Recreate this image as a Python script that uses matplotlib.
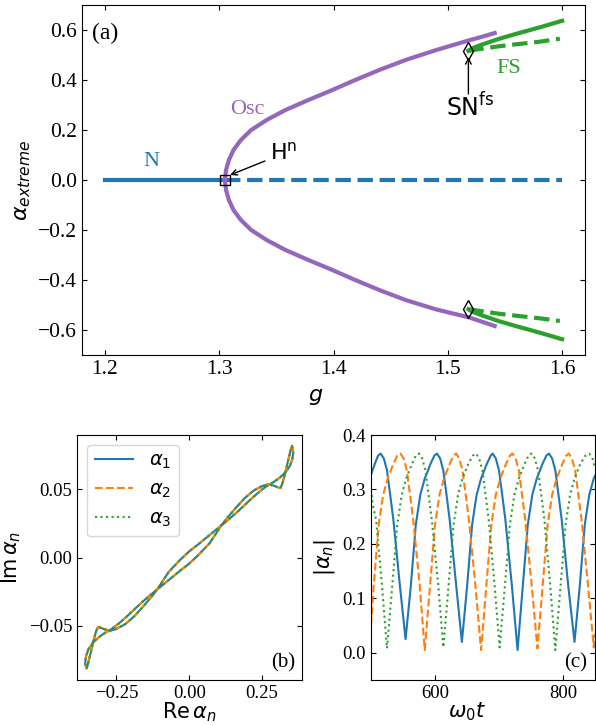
import numpy as np
import matplotlib.pyplot as plt

plt.rcParams['font.family'] = ['Liberation Serif', 'DejaVu Serif']
plt.rcParams['mathtext.fontset'] = 'dejavusans'

C_BLUE, C_ORANGE, C_GREEN, C_PURPLE = '#1f77b4', '#ff7f0e', '#2ca02c', '#9467bd'

# --- (a) bifurcation diagram ---
g_n_stable = [1.20, 1.305]
g_n_unstable = [1.305, 1.60]
g_hopf = 1.305

g_osc = [1.305, 1.306, 1.3085, 1.3125, 1.319, 1.328, 1.3415, 1.358, 1.378,
         1.399, 1.419, 1.44, 1.463, 1.49, 1.518, 1.53, 1.541]
osc_upper = [0.0, 0.04, 0.08, 0.12, 0.16, 0.20, 0.24, 0.28, 0.32,
             0.36, 0.40, 0.44, 0.48, 0.52, 0.558, 0.573, 0.588]
osc_lower = [0.0, -0.04, -0.08, -0.12, -0.16, -0.20, -0.24, -0.28, -0.32,
             -0.36, -0.40, -0.44, -0.48, -0.518, -0.549, -0.567, -0.584]

g_sn = 1.518
g_fs_solid = [1.518, 1.522, 1.53, 1.545, 1.56, 1.58, 1.60]
fs_solid_upper = [0.517, 0.528, 0.542, 0.565, 0.585, 0.61, 0.637]
fs_solid_lower = [-0.517, -0.528, -0.542, -0.565, -0.585, -0.61, -0.637]
g_fs_dashed = [1.518, 1.53, 1.545, 1.56, 1.58, 1.598]
fs_dashed_upper = [0.517, 0.525, 0.535, 0.543, 0.553, 0.565]
fs_dashed_lower = [-0.517, -0.525, -0.535, -0.543, -0.553, -0.564]

# --- (b) limit cycle in the complex plane ---
re_cycle = [0.353, 0.357, 0.354, 0.346, 0.330, 0.310, 0.290, 0.270, 0.250, 0.220,
            0.190, 0.160, 0.130, 0.110, 0.070, 0.030, 0.000, -0.030, -0.070, -0.110,
            -0.130, -0.160, -0.190, -0.220, -0.250, -0.270, -0.290, -0.305, -0.313, -0.320,
            -0.330, -0.338, -0.346, -0.351, -0.353,
            -0.357, -0.354, -0.346, -0.330, -0.310, -0.290, -0.270, -0.250, -0.220,
            -0.190, -0.160, -0.130, -0.110, -0.070, -0.030, 0.000, 0.030, 0.070, 0.110,
            0.130, 0.160, 0.190, 0.220, 0.250, 0.270, 0.290, 0.305, 0.313, 0.320,
            0.330, 0.338, 0.346, 0.351, 0.353]
im_cycle = [0.0816, 0.0775, 0.0725, 0.0675, 0.0625, 0.0585, 0.0555, 0.0530, 0.0500, 0.0445,
            0.0385, 0.0325, 0.0270, 0.0235, 0.0165, 0.0095, 0.0045, -0.0015, -0.0105, -0.0235,
            -0.0290, -0.0365, -0.0435, -0.0490, -0.0525, -0.0537, -0.0528, -0.0515, -0.0510, -0.0545,
            -0.0625, -0.0700, -0.0770, -0.0810, -0.0816,
            -0.0775, -0.0725, -0.0675, -0.0625, -0.0585, -0.0555, -0.0530, -0.0500, -0.0445,
            -0.0385, -0.0325, -0.0270, -0.0235, -0.0165, -0.0095, -0.0045, 0.0015, 0.0105, 0.0235,
            0.0290, 0.0365, 0.0435, 0.0490, 0.0525, 0.0537, 0.0528, 0.0515, 0.0510, 0.0545,
            0.0625, 0.0700, 0.0770, 0.0810, 0.0816]

# --- (c) time traces of |alpha_n| ---
t1 = [500, 506, 511, 515, 520, 525, 530, 535, 545, 554, 562, 570, 577, 584, 593, 599,
      603, 608, 613, 618, 623, 633, 642, 650, 658, 665, 672, 681, 687,
      690, 695, 700, 705, 710, 720, 729, 737, 745, 752, 759, 768, 774,
      778, 783, 788, 793, 798, 808, 818, 826, 834, 841, 848, 850]
a1 = [0.327, 0.347, 0.362, 0.366, 0.357, 0.335, 0.29, 0.244, 0.125, 0.025, 0.12, 0.235, 0.29, 0.32, 0.347, 0.362,
      0.366, 0.357, 0.335, 0.29, 0.244, 0.125, 0.02, 0.12, 0.235, 0.29, 0.32, 0.347, 0.362,
      0.366, 0.357, 0.335, 0.29, 0.244, 0.125, 0.005, 0.12, 0.235, 0.29, 0.32, 0.347, 0.362,
      0.366, 0.357, 0.335, 0.29, 0.244, 0.125, 0.02, 0.12, 0.235, 0.29, 0.32, 0.325]

t2 = [500, 504, 512, 519, 526, 535, 541,
      546, 551, 556, 561, 566, 576, 584, 592, 600, 607, 614, 623, 629,
      633, 638, 643, 648, 653, 663, 672, 680, 688, 695, 702, 711, 717,
      721, 726, 731, 736, 741, 751, 760, 768, 776, 783, 790, 799, 805,
      809, 814, 819, 824, 829, 839, 848, 850]
a2 = [0.05, 0.12, 0.235, 0.29, 0.32, 0.347, 0.362,
      0.366, 0.357, 0.335, 0.29, 0.244, 0.125, 0.005, 0.12, 0.235, 0.29, 0.32, 0.347, 0.362,
      0.366, 0.357, 0.335, 0.29, 0.244, 0.125, 0.005, 0.12, 0.235, 0.29, 0.32, 0.347, 0.362,
      0.366, 0.357, 0.335, 0.29, 0.244, 0.125, 0.008, 0.12, 0.235, 0.29, 0.32, 0.347, 0.362,
      0.366, 0.357, 0.335, 0.29, 0.244, 0.125, 0.01, 0.035]

t3 = [500, 503, 508, 517, 525, 533, 541, 548, 555, 564, 570,
      575, 580, 585, 590, 595, 605, 613, 621, 629, 636, 643, 652, 659,
      664, 669, 674, 679, 684, 693, 701, 709, 717, 724, 731, 740, 746,
      751, 756, 761, 766, 771, 780, 788, 796, 804, 811, 818, 827, 835,
      841, 846, 850]
a3 = [0.30, 0.27, 0.244, 0.125, 0.008, 0.12, 0.235, 0.29, 0.32, 0.347, 0.362,
      0.366, 0.357, 0.335, 0.29, 0.244, 0.125, 0.01, 0.12, 0.235, 0.29, 0.32, 0.347, 0.362,
      0.366, 0.357, 0.335, 0.29, 0.244, 0.125, 0.01, 0.12, 0.235, 0.29, 0.32, 0.347, 0.362,
      0.366, 0.357, 0.335, 0.29, 0.244, 0.125, 0.005, 0.12, 0.235, 0.29, 0.32, 0.347, 0.362,
      0.366, 0.357, 0.34]

W, H = 596, 726
fig = plt.figure(figsize=(W / 100, H / 100), dpi=100)
ax_a = fig.add_axes([82 / W, 1 - 355 / H, 503 / W, 350 / H])
ax_b = fig.add_axes([77 / W, 1 - 680 / H, 225 / W, 245 / H])
ax_c = fig.add_axes([371 / W, 1 - 680 / H, 224 / W, 245 / H])

# panel (a)
lw = 3
ax_a.plot(g_n_stable, [0, 0], color=C_BLUE, lw=lw)
ax_a.plot(g_n_unstable, [0, 0], color=C_BLUE, lw=lw, ls='--')
ax_a.plot(g_osc, osc_upper, color=C_PURPLE, lw=lw)
ax_a.plot(g_osc, osc_lower, color=C_PURPLE, lw=lw)
ax_a.plot(g_fs_solid, fs_solid_upper, color=C_GREEN, lw=lw)
ax_a.plot(g_fs_solid, fs_solid_lower, color=C_GREEN, lw=lw)
ax_a.plot(g_fs_dashed, fs_dashed_upper, color=C_GREEN, lw=lw, ls='--')
ax_a.plot(g_fs_dashed, fs_dashed_lower, color=C_GREEN, lw=lw, ls='--')
ax_a.plot([g_hopf], [0], marker='s', ms=7.5, mfc='none', mec='k', mew=1, zorder=5)
ax_a.plot([g_sn, g_sn], [fs_solid_upper[0], fs_solid_lower[0]], ls='none',
          marker='d', ms=9, mfc='none', mec='k', mew=1, zorder=5)

ax_a.text(1.241, 0.072, 'N', color=C_BLUE, fontsize=16, ha='center', va='center')
ax_a.text(1.325, 0.284, 'Osc', color=C_PURPLE, fontsize=16, ha='center', va='center')
ax_a.text(1.553, 0.446, 'FS', color=C_GREEN, fontsize=16, ha='center', va='center')
ax_a.text(1.3447, 0.084, r'H$^{\rm n}$', family='DejaVu Sans', fontsize=16,
          ha='left', va='baseline')
ax_a.text(1.498, 0.256, r'SN$^{\rm fs}$', family='DejaVu Sans', fontsize=17,
          ha='left', va='baseline')
arrow = dict(arrowstyle='->', color='k', lw=1, shrinkA=0, shrinkB=0)
ax_a.annotate('', xy=(1.3096, 0.02), xytext=(1.340, 0.076), arrowprops=arrow)
ax_a.annotate('', xy=(g_sn, 0.492), xytext=(g_sn, 0.344), arrowprops=arrow)
ax_a.text(0.02, 0.95, '(a)', transform=ax_a.transAxes, fontsize=17, ha='left', va='top')

ax_a.set_xlim(1.18, 1.62)
ax_a.set_ylim(-0.7, 0.7)
ax_a.set_xticks([1.2, 1.3, 1.4, 1.5, 1.6])
ax_a.set_yticks([-0.6, -0.4, -0.2, 0.0, 0.2, 0.4, 0.6])
ax_a.set_xlabel(r'$g$', fontsize=16, labelpad=6)
ax_a.xaxis.label.set_x(0.465)
ax_a.set_ylabel(r'$\alpha_{extreme}$', fontsize=16)
ax_a.tick_params(direction='in', top=True, right=True, labelsize=15.5)

# panel (b)
ax_b.plot(re_cycle, im_cycle, color=C_BLUE, lw=1.5, label=r'$\alpha_1$')
ax_b.plot(re_cycle, im_cycle, color=C_ORANGE, lw=1.5, ls='--', label=r'$\alpha_2$')
ax_b.plot(re_cycle, im_cycle, color=C_GREEN, lw=1.5, ls=':', label=r'$\alpha_3$')
ax_b.set_xlim(-0.385, 0.387)
ax_b.set_ylim(-0.09, 0.09)
ax_b.set_xticks([-0.25, 0.0, 0.25])
ax_b.set_yticks([-0.05, 0.0, 0.05])
ax_b.set_xlabel(r'$\mathrm{Re}\,\alpha_n$', fontsize=15, labelpad=-1)
ax_b.set_ylabel(r'$\mathrm{Im}\,\alpha_n$', fontsize=15)
ax_b.tick_params(direction='in', top=True, right=True, labelsize=13.5)
ax_b.legend(loc='upper left', fontsize=14)
ax_b.text(0.97, 0.03, '(b)', transform=ax_b.transAxes, fontsize=15, ha='right', va='bottom')

# panel (c)
ax_c.plot(t1, a1, color=C_BLUE, lw=1.5)
ax_c.plot(t2, a2, color=C_ORANGE, lw=1.5, ls='--')
ax_c.plot(t3, a3, color=C_GREEN, lw=1.5, ls=':')
ax_c.set_xlim(500, 850)
ax_c.set_ylim(-0.05, 0.4)
ax_c.set_xticks([600, 800])
ax_c.set_yticks([0.0, 0.1, 0.2, 0.3, 0.4])
ax_c.set_xlabel(r'$\omega_0 t$', fontsize=15, labelpad=-1)
ax_c.xaxis.label.set_x(0.43)
ax_c.set_ylabel(r'$|\alpha_n|$', fontsize=15)
ax_c.tick_params(direction='in', top=True, right=True, labelsize=13.5)
ax_c.text(0.965, 0.03, '(c)', transform=ax_c.transAxes, fontsize=15, ha='right', va='bottom')

fig.savefig('out.png', dpi=100)
